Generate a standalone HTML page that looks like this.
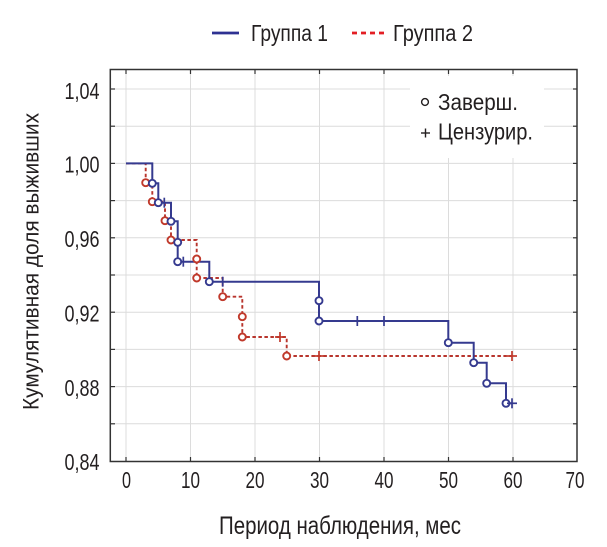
<!DOCTYPE html>
<html><head><meta charset="utf-8"><style>
html,body{margin:0;padding:0;background:#fff;}
svg{display:block;}
text{font-family:"Liberation Sans","DejaVu Sans",sans-serif;fill:#231f20;}
</style></head><body>
<svg width="607" height="547" viewBox="0 0 607 547" xmlns="http://www.w3.org/2000/svg">
<rect width="607" height="547" fill="#fff"/>
<!-- grid -->
<g stroke="#dcdcdc" stroke-width="1">
<line x1="126" y1="70" x2="126" y2="461"/>
<line x1="190.5" y1="70" x2="190.5" y2="461"/>
<line x1="255" y1="70" x2="255" y2="461"/>
<line x1="319.5" y1="70" x2="319.5" y2="461"/>
<line x1="384" y1="70" x2="384" y2="461"/>
<line x1="448.5" y1="70" x2="448.5" y2="461"/>
<line x1="513" y1="70" x2="513" y2="461"/>
<line x1="111" y1="89" x2="577" y2="89"/>
<line x1="111" y1="126.2" x2="577" y2="126.2"/>
<line x1="111" y1="163.4" x2="577" y2="163.4"/>
<line x1="111" y1="200.6" x2="577" y2="200.6"/>
<line x1="111" y1="237.8" x2="577" y2="237.8"/>
<line x1="111" y1="275" x2="577" y2="275"/>
<line x1="111" y1="312.2" x2="577" y2="312.2"/>
<line x1="111" y1="349.4" x2="577" y2="349.4"/>
<line x1="111" y1="386.6" x2="577" y2="386.6"/>
<line x1="111" y1="423.8" x2="577" y2="423.8"/>
</g>
<!-- legend box background -->
<rect x="410" y="76" width="134" height="82" fill="#fff"/>
<!-- frame -->
<rect x="110.3" y="69.5" width="466.7" height="392" fill="none" stroke="#333" stroke-width="1.5"/>
<!-- ticks -->
<g stroke="#333" stroke-width="1.2">
<line x1="126" y1="461" x2="126" y2="457"/><line x1="190.5" y1="461" x2="190.5" y2="457"/><line x1="255" y1="461" x2="255" y2="457"/><line x1="319.5" y1="461" x2="319.5" y2="457"/><line x1="384" y1="461" x2="384" y2="457"/><line x1="448.5" y1="461" x2="448.5" y2="457"/><line x1="513" y1="461" x2="513" y2="457"/>
<line x1="126" y1="70" x2="126" y2="74"/><line x1="190.5" y1="70" x2="190.5" y2="74"/><line x1="255" y1="70" x2="255" y2="74"/><line x1="319.5" y1="70" x2="319.5" y2="74"/><line x1="384" y1="70" x2="384" y2="74"/><line x1="448.5" y1="70" x2="448.5" y2="74"/><line x1="513" y1="70" x2="513" y2="74"/>
<line x1="111" y1="89" x2="115" y2="89"/><line x1="111" y1="126.2" x2="115" y2="126.2"/><line x1="111" y1="163.4" x2="115" y2="163.4"/><line x1="111" y1="200.6" x2="115" y2="200.6"/><line x1="111" y1="237.8" x2="115" y2="237.8"/><line x1="111" y1="275" x2="115" y2="275"/><line x1="111" y1="312.2" x2="115" y2="312.2"/><line x1="111" y1="349.4" x2="115" y2="349.4"/><line x1="111" y1="386.6" x2="115" y2="386.6"/><line x1="111" y1="423.8" x2="115" y2="423.8"/>
<line x1="577" y1="89" x2="573" y2="89"/><line x1="577" y1="126.2" x2="573" y2="126.2"/><line x1="577" y1="163.4" x2="573" y2="163.4"/><line x1="577" y1="200.6" x2="573" y2="200.6"/><line x1="577" y1="237.8" x2="573" y2="237.8"/><line x1="577" y1="275" x2="573" y2="275"/><line x1="577" y1="312.2" x2="573" y2="312.2"/><line x1="577" y1="349.4" x2="573" y2="349.4"/><line x1="577" y1="386.6" x2="573" y2="386.6"/><line x1="577" y1="423.8" x2="573" y2="423.8"/>
</g>
<!-- red series (dashed) -->
<path d="M126,163.4 H145.7 V182.7 H152.3 V201.7 H165 V220.7 H171 V240 H196.7 V259 V278 H222.7 V296.7 H242.3 V316.7 V337 H286.7 V356 H512" fill="none" stroke="#b8352d" stroke-width="1.9" stroke-dasharray="3.5 2.5"/>
<!-- blue series -->
<path d="M126,163.4 H152.3 V183.3 H158.3 V202.7 H171 V221.3 H177.7 V261.7 H209.3 V281.7 H319 V321 H448.3 V342.7 H473.7 V362.7 H486.7 V383.3 H506 V403.3 H512" fill="none" stroke="#353a8f" stroke-width="2"/>
<!-- red markers -->
<g fill="#fff" stroke="#c0392b" stroke-width="1.9">
<circle cx="145.7" cy="182.7" r="3.5"/><circle cx="152.3" cy="201.7" r="3.5"/><circle cx="165" cy="220.7" r="3.5"/><circle cx="171" cy="240" r="3.5"/><circle cx="196.7" cy="259" r="3.5"/><circle cx="196.7" cy="278" r="3.5"/><circle cx="222.7" cy="296.7" r="3.5"/><circle cx="242.3" cy="316.7" r="3.5"/><circle cx="242.3" cy="337" r="3.5"/><circle cx="286.7" cy="356" r="3.5"/>
</g>
<g stroke="#c0392b" stroke-width="1.7">
<line x1="280" y1="332" x2="280" y2="342"/><line x1="275" y1="337" x2="285" y2="337"/>
<line x1="319" y1="351" x2="319" y2="361"/><line x1="314" y1="356" x2="324" y2="356"/>
<line x1="512" y1="351" x2="512" y2="361"/><line x1="507" y1="356" x2="517" y2="356"/>
</g>
<!-- blue markers -->
<g fill="#fff" stroke="#353a8f" stroke-width="1.9">
<circle cx="152.3" cy="183.3" r="3.5"/><circle cx="158.3" cy="202.7" r="3.5"/><circle cx="171" cy="221.3" r="3.5"/><circle cx="177.7" cy="242.3" r="3.5"/><circle cx="177.7" cy="261.7" r="3.5"/><circle cx="209.3" cy="281.7" r="3.5"/><circle cx="319" cy="300.7" r="3.5"/><circle cx="319" cy="321" r="3.5"/><circle cx="448.3" cy="342.7" r="3.5"/><circle cx="473.7" cy="362.7" r="3.5"/><circle cx="486.7" cy="383.3" r="3.5"/><circle cx="506" cy="403.3" r="3.5"/>
</g>
<g stroke="#353a8f" stroke-width="1.7">
<line x1="164.3" y1="197.7" x2="164.3" y2="207.7"/>
<line x1="183.3" y1="256.7" x2="183.3" y2="266.7"/>
<line x1="222.7" y1="276.7" x2="222.7" y2="286.7"/>
<line x1="357.3" y1="316" x2="357.3" y2="326"/>
<line x1="384" y1="316" x2="384" y2="326"/>
<line x1="512" y1="398.3" x2="512" y2="408.3"/><line x1="507" y1="403.3" x2="517" y2="403.3"/>
</g>
<!-- y tick labels -->
<g font-size="23.5" text-anchor="end">
<text x="99.5" y="99" textLength="35" lengthAdjust="spacingAndGlyphs">1,04</text>
<text x="99.5" y="172.7" textLength="35" lengthAdjust="spacingAndGlyphs">1,00</text>
<text x="99.5" y="247.1" textLength="35" lengthAdjust="spacingAndGlyphs">0,96</text>
<text x="99.5" y="321.5" textLength="35" lengthAdjust="spacingAndGlyphs">0,92</text>
<text x="99.5" y="395.9" textLength="35" lengthAdjust="spacingAndGlyphs">0,88</text>
<text x="99.5" y="470" textLength="35" lengthAdjust="spacingAndGlyphs">0,84</text>
</g>
<!-- x tick labels -->
<g font-size="23" text-anchor="middle">
<text x="126.5" y="488" textLength="9" lengthAdjust="spacingAndGlyphs">0</text>
<text x="190.5" y="488" textLength="19" lengthAdjust="spacingAndGlyphs">10</text>
<text x="255" y="488" textLength="19" lengthAdjust="spacingAndGlyphs">20</text>
<text x="319.5" y="488" textLength="19" lengthAdjust="spacingAndGlyphs">30</text>
<text x="384" y="488" textLength="19" lengthAdjust="spacingAndGlyphs">40</text>
<text x="448.5" y="488" textLength="19" lengthAdjust="spacingAndGlyphs">50</text>
<text x="513" y="488" textLength="19" lengthAdjust="spacingAndGlyphs">60</text>
<text x="575" y="488" textLength="19" lengthAdjust="spacingAndGlyphs">70</text>
</g>
<!-- axis titles -->
<text x="219" y="534" font-size="25" textLength="242" lengthAdjust="spacingAndGlyphs">Период наблюдения, мес</text>
<text transform="translate(38.5,261.5) rotate(-90)" x="0" y="0" font-size="22.5" text-anchor="middle" textLength="297" lengthAdjust="spacingAndGlyphs">Кумулятивная доля выживших</text>
<!-- top legend -->
<line x1="212" y1="33" x2="239" y2="33" stroke="#2e3192" stroke-width="2.8"/>
<text x="251" y="41" font-size="23" textLength="77" lengthAdjust="spacingAndGlyphs">Группа 1</text>
<line x1="352" y1="33" x2="385" y2="33" stroke="#e31e24" stroke-width="2.8" stroke-dasharray="5 4"/>
<text x="393" y="41" font-size="23" textLength="80" lengthAdjust="spacingAndGlyphs">Группа 2</text>
<!-- inner legend -->
<circle cx="425" cy="102" r="3.4" fill="none" stroke="#231f20" stroke-width="1.4"/>
<text x="438" y="110" font-size="23.5" textLength="80" lengthAdjust="spacingAndGlyphs">Заверш.</text>
<g stroke="#231f20" stroke-width="1.4">
<line x1="421" y1="133" x2="430" y2="133"/><line x1="425.5" y1="128.5" x2="425.5" y2="137.5"/>
</g>
<text x="438" y="139.5" font-size="23.5" textLength="95" lengthAdjust="spacingAndGlyphs">Цензурир.</text>
</svg>
</body></html>
